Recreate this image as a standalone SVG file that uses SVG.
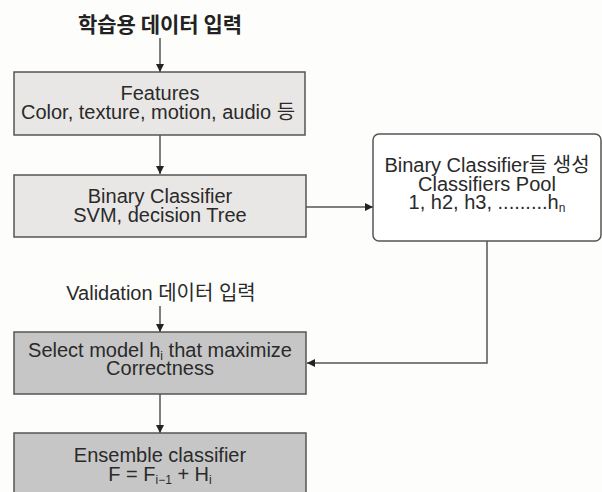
<svg xmlns="http://www.w3.org/2000/svg" width="602" height="492" viewBox="0 0 602 492">
<style>
.t{font-family:"Liberation Sans","Noto Sans CJK KR",sans-serif;font-size:20px;fill:#2a2a2a;text-anchor:middle}
.k{font-family:"Noto Sans CJK KR","Liberation Sans",sans-serif;font-weight:bold;font-size:21px;fill:#222;text-anchor:middle}
.s{font-size:12px}
.light{fill:#e9e7e5;stroke:#555;stroke-width:1.5}
.dark{fill:#c6c6c6;stroke:#555;stroke-width:1.5}
.c{fill:none;stroke:#555;stroke-width:1.5}
</style>
<defs>
<marker id="ah" viewBox="0 0 10 10" refX="10" refY="5" markerWidth="8" markerHeight="8" markerUnits="userSpaceOnUse" orient="auto">
<path d="M0,0 L10,5 L0,10 z" fill="#222"/>
</marker>
</defs>
<rect width="602" height="492" fill="#fdfdfb"/>
<g id="connectors">
<line class="c" x1="160" y1="38" x2="160" y2="72" marker-end="url(#ah)"/>
<line class="c" x1="160" y1="135" x2="160" y2="174" marker-end="url(#ah)"/>
<line class="c" x1="306" y1="207" x2="373" y2="207" marker-end="url(#ah)"/>
<polyline class="c" points="487,240 487,363 307,363" marker-end="url(#ah)"/>
<line class="c" x1="160" y1="306" x2="160" y2="332" marker-end="url(#ah)"/>
<line class="c" x1="160" y1="394" x2="160" y2="433" marker-end="url(#ah)"/>
</g>
<g id="input1"><text class="k" x="160" y="32">학습용 데이터 입력</text></g>
<g id="features">
<rect class="light" x="14" y="72" width="291" height="63"/>
<text class="t" x="160" y="100">Features</text>
<text class="t" x="158" y="119">Color, texture, motion, audio 등</text>
</g>
<g id="binary">
<rect class="light" x="14" y="175" width="292" height="62"/>
<text class="t" x="160" y="203">Binary Classifier</text>
<text class="t" x="160" y="222">SVM, decision Tree</text>
</g>
<g id="pool">
<rect x="373" y="134" width="228" height="107" rx="6" fill="#fff" stroke="#555" stroke-width="1.5"/>
<text class="t" x="487" y="172">Binary Classifier들 생성</text>
<text class="t" x="487" y="191">Classifiers Pool</text>
<text class="t" x="487" y="209">1, h2, h3, .........h<tspan class="s" dy="3">n</tspan></text>
</g>
<g id="input2"><text class="t" x="161" y="300">Validation 데이터 입력</text></g>
<g id="select">
<rect class="dark" x="14" y="332" width="292" height="62"/>
<text class="t" x="160" y="357">Select model h<tspan class="s" dy="3">i</tspan><tspan dy="-3"> that maximize</tspan></text>
<text class="t" x="160" y="375">Correctness</text>
</g>
<g id="ensemble">
<rect class="dark" x="14" y="433" width="292" height="70"/>
<text class="t" x="160" y="462">Ensemble classifier</text>
<text class="t" x="160" y="481">F = F<tspan class="s" dy="3">i−1</tspan><tspan dy="-3"> + H</tspan><tspan class="s" dy="3">i</tspan></text>
</g>
</svg>
